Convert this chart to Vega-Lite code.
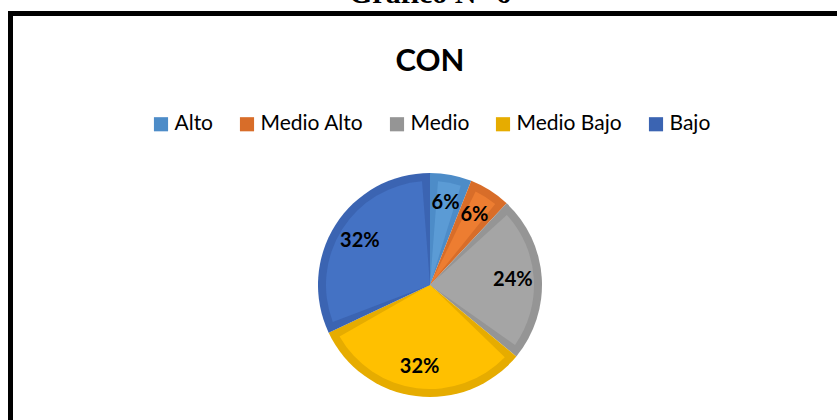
{
  "$schema": "https://vega.github.io/schema/vega-lite/v6.json",
  "autosize": {"type": "none"},
  "width": 839,
  "height": 543,
  "padding": {"left": 10.5, "top": 13.5, "right": -12.5, "bottom": -136.5},
  "background": "white",
  "view": {"stroke": "black", "strokeWidth": 5, "fill": "white"},
  "title": {
    "text": "Gráfico N° 6",
    "subtitle": "CON",
    "anchor": "middle",
    "font": "Liberation Serif",
    "fontSize": 30,
    "fontWeight": "bold",
    "color": "black",
    "subtitleFont": "Lato",
    "subtitleFontSize": 31,
    "subtitleFontWeight": "bold",
    "subtitleColor": "black",
    "subtitlePadding": 38,
    "offset": -63
  },
  "data": {
    "values": [
      {"cat": "Alto", "k": 1, "pct": 0.06},
      {"cat": "Medio Alto", "k": 2, "pct": 0.06},
      {"cat": "Medio", "k": 3, "pct": 0.24},
      {"cat": "Medio Bajo", "k": 4, "pct": 0.32},
      {"cat": "Bajo", "k": 5, "pct": 0.32}
    ]
  },
  "encoding": {
    "theta": {"field": "pct", "type": "quantitative", "stack": true},
    "order": {"field": "k", "type": "quantitative"}
  },
  "layer": [
    {
      "mark": {"type": "arc", "radius": 112},
      "encoding": {
        "color": {
          "field": "cat",
          "type": "nominal",
          "scale": {
            "domain": ["Alto", "Medio Alto", "Medio", "Medio Bajo", "Bajo"],
            "range": ["#4d8cc8", "#d86d29", "#959595", "#e6ac00", "#3b64b2"]
          },
          "legend": {
            "orient": "none",
            "legendX": 140,
            "legendY": 100,
            "direction": "horizontal",
            "columns": 5,
            "title": null,
            "symbolType": "square",
            "symbolSize": 200,
            "symbolStrokeWidth": 0,
            "labelFont": "Lato",
            "labelFontSize": 21,
            "labelColor": "black",
            "labelOffset": 3,
            "columnPadding": 23
          }
        }
      }
    },
    {
      "mark": {"type": "arc", "radius": 104, "padAngle": 0.154},
      "encoding": {
        "color": {
          "field": "cat",
          "type": "nominal",
          "scale": {
            "domain": ["Alto", "Medio Alto", "Medio", "Medio Bajo", "Bajo"],
            "range": ["#5b9bd5", "#ed7d31", "#a5a5a5", "#ffc000", "#4472c4"]
          },
          "legend": null
        }
      }
    },
    {
      "mark": {"type": "text", "radius": 83, "font": "Lato", "fontWeight": "bold", "fontSize": 20, "color": "black"},
      "encoding": {
        "detail": {"field": "cat", "type": "nominal"},
        "text": {"field": "pct", "type": "quantitative", "format": ".0%"}
      }
    }
  ],
  "resolve": {"scale": {"color": "independent"}}
}
